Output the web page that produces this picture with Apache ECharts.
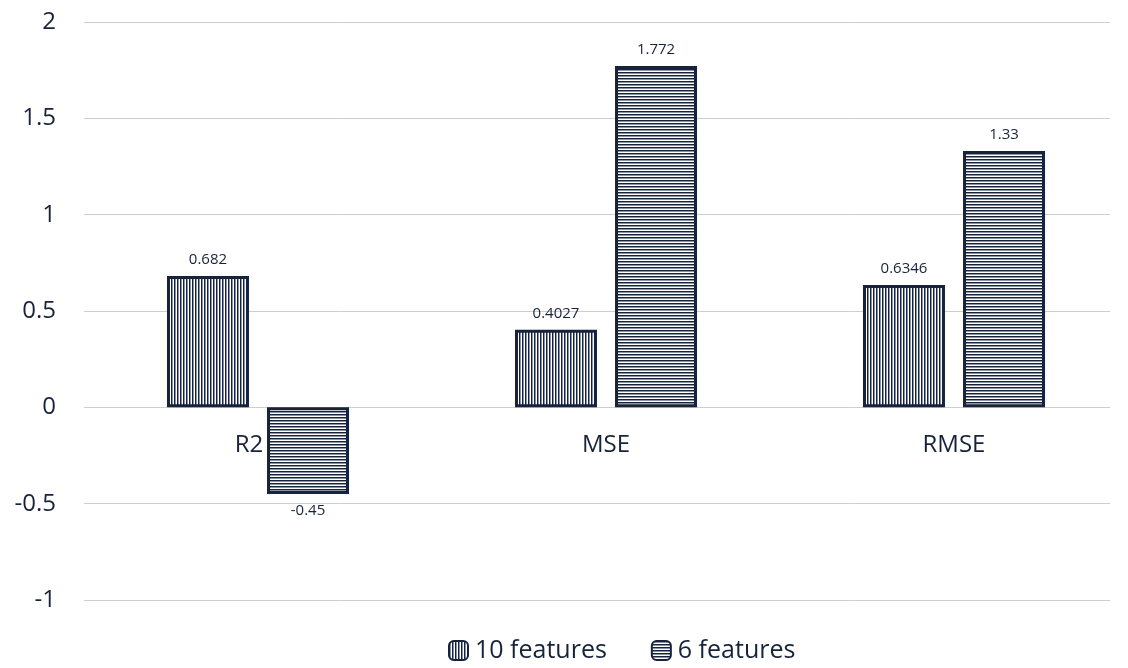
<!DOCTYPE html>
<html>
<head>
<meta charset="utf-8">
<script src="https://cdn.jsdelivr.net/npm/echarts@6/dist/echarts.min.js"></script>
<style>
  html, body { margin: 0; padding: 0; background: #ffffff; }
  #chart { width: 1128px; height: 668px; }
</style>
</head>
<body>
<div id="chart"></div>
<script>
const categories = ['R2', 'MSE', 'RMSE'];
const tenFeatures = [0.682, 0.4027, 0.6346];
const sixFeatures = [-0.45, 1.772, 1.33];
const seriesNames = ['10 features', '6 features'];
const yMin = -1, yMax = 2, yStep = 0.5;

const ink = '#17233a';

// Striped fills: vertical lines for one series, horizontal for the other
function stripes(vertical) {
  const c = document.createElement('canvas');
  c.width = 3; c.height = 3;
  const g = c.getContext('2d');
  g.fillStyle = '#ffffff';
  g.fillRect(0, 0, 3, 3);
  g.fillStyle = ink;
  if (vertical) g.fillRect(0, 0, 2, 3);
  else g.fillRect(0, 0, 3, 2);
  g.fillStyle = '#8a93a3';
  if (vertical) g.fillRect(1, 0, 1, 3);
  else g.fillRect(0, 1, 3, 1);
  return { image: c, repeat: 'repeat' };
}

// Value labels sit above positive bars and below negative ones
function withLabels(values) {
  return values.map(v => ({
    value: v,
    label: { position: v < 0 ? 'bottom' : 'top' }
  }));
}

// A category whose second bar dips below zero gets its name nudged left,
// clear of that bar
function categoryItems() {
  return categories.map((name, i) => (
    sixFeatures[i] < 0
      ? { value: name, textStyle: { padding: [0, 18, 0, 0] } }
      : name
  ));
}

const chart = echarts.init(document.getElementById('chart'));
const font = 'Open Sans';

const plotTop = 22, plotBottom = 68;
const plotHeight = 668 - plotTop - plotBottom;
// pixel row of the zero line, where the category names hang
const zeroY = plotTop + plotHeight * (yMax - 0) / (yMax - yMin);

chart.setOption({
  animation: false,
  textStyle: { fontFamily: font },
  legend: {
    bottom: 0,
    left: 443,
    itemWidth: 19,
    itemHeight: 19,
    itemGap: 44,
    textStyle: { fontSize: 25, color: ink, fontFamily: font, padding: [0, 0, 0, 2] },
    data: seriesNames
  },
  grid: [
    { left: 84, right: 18, top: plotTop, bottom: plotBottom },
    { left: 84, right: -5, top: plotTop, bottom: plotBottom },
    { left: 84, right: -5, top: zeroY, height: 60 }
  ],
  xAxis: [
    { type: 'category', gridIndex: 0, data: categories, show: false },
    { type: 'category', gridIndex: 1, data: categories, show: false },
    {
      type: 'category', gridIndex: 2, data: categoryItems(), position: 'top', z: 5,
      axisLine: { show: false }, axisTick: { show: false },
      axisLabel: { inside: true, fontSize: 24, color: ink, margin: 26, fontFamily: font }
    }
  ],
  yAxis: [
    {
      type: 'value', gridIndex: 0, min: yMin, max: yMax, interval: yStep,
      axisLine: { show: false }, axisTick: { show: false },
      axisLabel: { fontSize: 24, color: ink, margin: 28, fontFamily: font },
      splitLine: { lineStyle: { color: '#c8cfd8', width: 1 } }
    },
    { type: 'value', gridIndex: 1, min: yMin, max: yMax, interval: yStep, show: false },
    { type: 'value', gridIndex: 2, min: 0, max: 1, show: false }
  ],
  series: [
    {
      name: seriesNames[0], type: 'bar', xAxisIndex: 1, yAxisIndex: 1,
      data: withLabels(tenFeatures), barWidth: 82, barGap: '22%',
      itemStyle: { color: stripes(true), borderColor: ink, borderWidth: 3 },
      label: { show: true, distance: 9, fontSize: 15, color: ink, fontFamily: font }
    },
    {
      name: seriesNames[1], type: 'bar', xAxisIndex: 1, yAxisIndex: 1,
      data: withLabels(sixFeatures), barWidth: 82, barGap: '22%',
      itemStyle: { color: stripes(false), borderColor: ink, borderWidth: 3 },
      label: { show: true, distance: 9, fontSize: 15, color: ink, fontFamily: font }
    }
  ]
});
</script>
</body>
</html>
